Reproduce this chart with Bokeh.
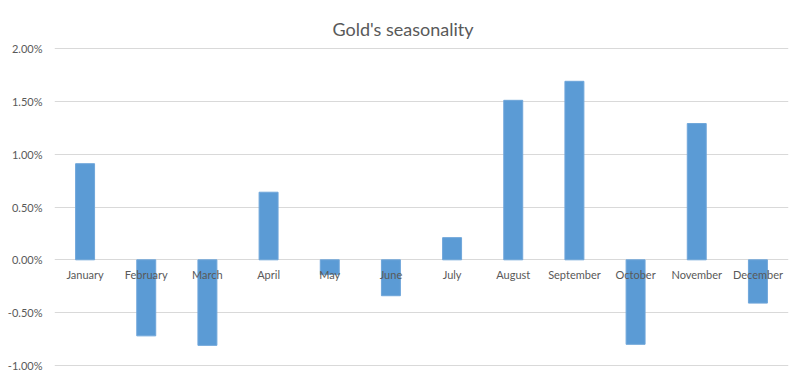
from bokeh.plotting import figure
from bokeh.models import PrintfTickFormatter, FixedTicker, Range1d, ColumnDataSource
from bokeh.core.properties import value
from bokeh.embed import file_html
from bokeh.resources import INLINE

months = ["January", "February", "March", "April", "May", "June", "July",
          "August", "September", "October", "November", "December"]
avg_return_pct = [0.91, -0.72, -0.81, 0.64, -0.14, -0.34, 0.21, 1.51, 1.69, -0.80, 1.29, -0.41]
y_ticks = [-1.0, -0.5, 0.0, 0.5, 1.0, 1.5, 2.0]
baseline = [0.0] * len(months)

TEXT = "#595959"
FONT = "Lato"

src = ColumnDataSource(dict(month=months, ret=avg_return_pct, base=baseline))

p = figure(x_range=months, y_range=Range1d(-1.01, 2.01),
           width=800, height=377, output_backend="svg", toolbar_location=None,
           x_axis_location=None,
           min_border_left=54, min_border_right=12, min_border_top=47, min_border_bottom=11)

p.title.text = "Gold's seasonality"
p.title.align = "left"
p.title.vertical_align = "top"
p.title.offset = 278
p.title.standoff = 12
p.title.text_line_height = 0.5
p.title.text_font = FONT
p.title.text_font_size = "18px"
p.title.text_font_style = "normal"
p.title.text_color = TEXT

p.vbar(x="month", top="ret", bottom="base", width=0.31, source=src,
       fill_color="#5B9BD5", line_color="#6FA6DA", line_width=1)

p.text(x="month", y="base", text="month", source=src, text_align="center",
       text_baseline="middle", y_offset=15, text_font=value(FONT),
       text_font_size="11px", text_color=TEXT)

p.yaxis.ticker = FixedTicker(ticks=y_ticks)
p.yaxis.formatter = PrintfTickFormatter(format="%.2f%%")
p.yaxis.axis_line_color = None
p.yaxis.major_tick_line_color = None
p.yaxis.minor_tick_line_color = None
p.yaxis.major_tick_out = 0
p.yaxis.major_tick_in = 0
p.yaxis.minor_tick_out = 0
p.yaxis.major_label_standoff = 12
p.yaxis.major_label_text_font = FONT
p.yaxis.major_label_text_font_size = "11px"
p.yaxis.major_label_text_color = TEXT

p.xgrid.grid_line_color = None
p.ygrid.grid_line_color = "#D9D9D9"
p.ygrid.grid_line_width = 1
p.outline_line_color = None
p.background_fill_color = "white"
p.border_fill_color = "white"

open("out.html", "w").write(file_html(p, INLINE))
